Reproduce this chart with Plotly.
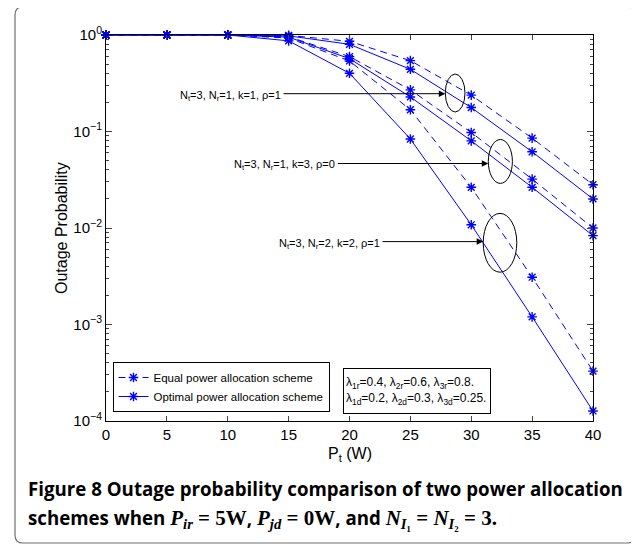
import plotly.graph_objects as go

# ---------------- data ----------------
pt = [0, 5, 10, 15, 20, 25, 30, 35, 40]

# Nt=3, Nr=1, k=1, rho=1
a_equal = [1, 1, 1, 0.99, 0.860, 0.542, 0.238, 0.0853, 0.0281]
a_opt   = [1, 1, 1, 0.98, 0.801, 0.441, 0.177, 0.0616, 0.0200]
# Nt=3, Nr=1, k=3, rho=0
b_equal = [1, 1, 1, 0.96, 0.597, 0.270, 0.0977, 0.0321, 0.0100]
b_opt   = [1, 1, 1, 0.95, 0.569, 0.228, 0.0800, 0.0264, 0.00834]
# Nt=3, Nr=2, k=2, rho=1
c_equal = [1, 1, 1, 0.93, 0.538, 0.168, 0.0264, 0.00309, 0.000329]
c_opt   = [1, 1, 1, 0.87, 0.401, 0.0836, 0.0108, 0.00120, 0.000127]

x_ticks = [0, 5, 10, 15, 20, 25, 30, 35, 40]
y_ticks = [1, 0.1, 0.01, 0.001, 0.0001]
y_ticktext = ["10<sup>0</sup>", "10<sup>−1</sup>", "10<sup>−2</sup>",
              "10<sup>−3</sup>", "10<sup>−4</sup>"]
y_minor = [k * 10.0 ** e for e in range(-4, 0) for k in range(2, 10)]

legend_names = ["Equal power allocation scheme", "Optimal power allocation scheme"]

# ---------------- layout helpers ----------------
# The page body adds an 8px offset, so the figure is drawn 8px smaller and
# all reference pixel positions are shifted by that offset.
OFF = 8
W, H = 639 - OFF, 548 - OFF
L, R, T, B = 106 - OFF, 593 - OFF, 35 - OFF, 421 - OFF


def px(xp):
    return (xp - OFF - L) / (R - L)


def py(yp):
    return (B - (yp - OFF)) / (B - T)


BLUE = "rgb(0,0,255)"
FONT = "Liberation Sans, Arial, Helvetica, sans-serif"

fig = go.Figure()

series = [
    (a_equal, "equal"), (a_opt, "opt"),
    (b_equal, "equal"), (b_opt, "opt"),
    (c_equal, "equal"), (c_opt, "opt"),
]
shown = set()
for vals, kind in series:
    is_eq = kind == "equal"
    fig.add_trace(go.Scatter(
        x=pt, y=vals, mode="lines+markers",
        name=legend_names[0] if is_eq else legend_names[1],
        legendgroup=kind,
        showlegend=kind not in shown,
        line=dict(color=BLUE, width=1, dash="7px,5px" if is_eq else "solid"),
        marker=dict(symbol="asterisk", size=8, color=BLUE,
                    line=dict(color=BLUE, width=1.4)),
        cliponaxis=False,
    ))
    shown.add(kind)

fig.update_layout(
    width=W, height=H,
    margin=dict(l=L, r=W - R, t=T, b=H - B, pad=0, autoexpand=False),
    paper_bgcolor="white", plot_bgcolor="white",
    font=dict(family=FONT, color="black", size=15),
    showlegend=True,
    legend=dict(
        x=px(112.5), y=py(412), xanchor="left", yanchor="bottom",
        bgcolor="white", bordercolor="black", borderwidth=1,
        font=dict(size=11.5, family=FONT, color="black"),
        itemwidth=30, tracegroupgap=0,
    ),
    xaxis=dict(
        range=[0, 40], tickvals=x_ticks, ticks="inside", ticklen=5,
        showline=True, linecolor="black", linewidth=1, mirror="ticks",
        showgrid=False, zeroline=False, tickfont=dict(size=15),
        automargin=False,
    ),
    yaxis=dict(
        type="log", range=[-4, 0], tickvals=y_ticks, ticktext=y_ticktext,
        ticks="inside", ticklen=6,
        showline=True, linecolor="black", linewidth=1, mirror="ticks",
        showgrid=False, zeroline=False, tickfont=dict(size=15),
        minor=dict(tickvals=y_minor, ticks="inside", ticklen=3, showgrid=False),
        automargin=False,
    ),
)

shapes = []
# outer rounded frame
x0, y0, x1, y1, r = 15, 7, 635, 543, 8
path = (
    f"M {px(x0 + r)},{py(y0)} L {px(x1 - r)},{py(y0)} "
    f"Q {px(x1)},{py(y0)} {px(x1)},{py(y0 + r)} "
    f"L {px(x1)},{py(y1 - r)} Q {px(x1)},{py(y1)} {px(x1 - r)},{py(y1)} "
    f"L {px(x0 + r)},{py(y1)} Q {px(x0)},{py(y1)} {px(x0)},{py(y1 - r)} "
    f"L {px(x0)},{py(y0 + r)} Q {px(x0)},{py(y0)} {px(x0 + r)},{py(y0)} Z"
)
shapes.append(dict(type="path", xref="paper", yref="paper", path=path,
                   line=dict(color="#707070", width=1.2)))
# ellipses
for (ex0, ex1, ey0, ey1) in [(445.3, 465, 74, 112), (488.3, 512.4, 139.5, 183.4),
                             (483.2, 516.8, 213.4, 272.2)]:
    shapes.append(dict(type="circle", xref="paper", yref="paper",
                       x0=px(ex0), x1=px(ex1), y0=py(ey1), y1=py(ey0),
                       line=dict(color="black", width=1)))
fig.update_layout(shapes=shapes)

ann = []
# curve group labels with arrows
labels = [
    ("N<sub>t</sub>=3, N<sub>r</sub>=1, k=1, ρ=1", 282, 445.3, 93.7),
    ("N<sub>t</sub>=3, N<sub>r</sub>=1, k=3, ρ=0", 336.3, 488.3, 163.5),
    ("N<sub>t</sub>=3, N<sub>r</sub>=2, k=2, ρ=1", 381, 483.2, 241.6),
]
for text, tail, tip, yy in labels:
    ann.append(dict(xref="paper", yref="paper", x=px(tail), y=py(yy),
                    text=text, showarrow=False, xanchor="right", yanchor="middle",
                    yshift=-2, borderpad=0,
                    font=dict(size=11, family=FONT, color="black")))
    ann.append(dict(xref="paper", yref="paper", x=px(tip), y=py(yy),
                    ax=tail - tip, ay=0, axref="pixel", ayref="pixel",
                    text="", showarrow=True, arrowhead=2, arrowsize=1.3,
                    arrowwidth=1, arrowcolor="black"))

# parameter box
ann.append(dict(
    xref="paper", yref="paper", x=px(343.3), y=py(368), xanchor="left", yanchor="top",
    text=("λ<sub>1r</sub>=0.4, λ<sub>2r</sub>=0.6, λ<sub>3r</sub>=0.8.<br>"
          "λ<sub>1d</sub>=0.2, λ<sub>2d</sub>=0.3, λ<sub>3d</sub>=0.25."),
    showarrow=False, align="left", valign="middle",
    width=142, height=40, borderpad=2,
    bordercolor="black", borderwidth=1, bgcolor="white",
    font=dict(size=12, family=FONT, color="black"),
))

# axis titles
ann.append(dict(xref="paper", yref="paper", x=px(61), y=py(228), text="Outage Probability",
                textangle=-90, showarrow=False, xanchor="center", yanchor="middle",
                font=dict(size=16, family=FONT, color="black")))
ann.append(dict(xref="paper", yref="paper", x=px(350), y=py(454), text="P<sub>t</sub> (W)",
                showarrow=False, xanchor="center", yanchor="middle",
                font=dict(size=16, family=FONT, color="black")))

# caption
CAP = "Open Sans, Noto Sans, sans-serif"
SER = "Liberation Serif, DejaVu Serif, serif"
ann.append(dict(xref="paper", yref="paper", x=px(26), y=py(488),
                text="<b>Figure 8</b> <b>Outage probability comparison of two power allocation</b>",
                showarrow=False, xanchor="left", yanchor="middle",
                font=dict(size=18.7, family=CAP, color="black")))
sp = f"font-family:{SER};font-size:21px"
line2 = (
    "<b>schemes when </b>"
    f"<span style='{sp}'><b><i>P</i><sub><i>ir</i></sub> = 5W</b></span>"
    "<b>, </b>"
    f"<span style='{sp}'><b><i>P</i><sub><i>jd</i></sub> = 0W</b></span>"
    "<b>, and </b>"
    f"<span style='{sp}'><b><i>N</i><sub><i>I</i>₁</sub> = <i>N</i><sub><i>I</i>₂</sub> = 3.</b></span>"
)
ann.append(dict(xref="paper", yref="paper", x=px(26), y=py(518), text=line2,
                showarrow=False, xanchor="left", yanchor="middle",
                font=dict(size=18.7, family=CAP, color="black")))

fig.update_layout(annotations=ann)

fig.write_html("out.html")
